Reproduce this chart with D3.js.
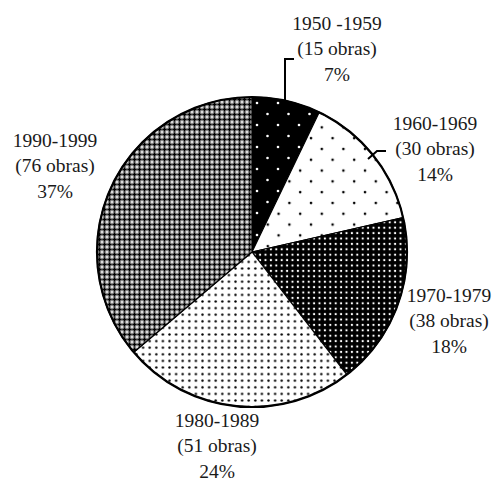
<!DOCTYPE html>
<html>
<head>
<meta charset="utf-8">
<script src="https://cdn.jsdelivr.net/npm/d3@7/dist/d3.min.js"></script>
<style>
html,body{margin:0;padding:0;background:#fff;}
svg{display:block;}
</style>
</head>
<body>
<script>
// Data
const categories = ["1950 -1959", "1960-1969", "1970-1979", "1980-1989", "1990-1999"];
const counts = [15, 30, 38, 51, 76];
const percentLabels = ["7%", "14%", "18%", "24%", "37%"];

// Layout
const W = 495, H = 483;
const cx = 252, cy = 252, R = 155;
const labelAnchors = [
  {x: 337, y: 30},
  {x: 435, y: 130},
  {x: 449, y: 302},
  {x: 217, y: 427},
  {x: 55, y: 147}
];
const lineGap = 25.3;

const svg = d3.select("body").append("svg").attr("width", W).attr("height", H);
const defs = svg.append("defs");

// Patterns
function pat(id, w, h, bg, fg, dots, r) {
  const p = defs.append("pattern").attr("id", id).attr("patternUnits", "userSpaceOnUse")
    .attr("width", w).attr("height", h);
  p.append("rect").attr("width", w).attr("height", h).attr("fill", bg);
  dots.forEach(d => p.append("circle").attr("cx", d[0]).attr("cy", d[1]).attr("r", r).attr("fill", fg));
}
pat("p0", 21, 22, "#000", "#fff", [[5, 5], [15.5, 16]], 1.3);
pat("p1", 21.6, 21.6, "#fff", "#000", [[5, 5], [15.8, 15.8]], 1.3);
pat("p2", 5.4, 5.4, "#000", "#fff", [[2.7, 2.7]], 1.15);
pat("p3", 6.6, 6.6, "#fff", "#000", [[3.3, 3.3]], 1.2);
// crosshatch for 1990
const p4 = defs.append("pattern").attr("id", "p4").attr("patternUnits", "userSpaceOnUse")
  .attr("width", 5).attr("height", 5);
p4.append("rect").attr("width", 5).attr("height", 5).attr("fill", "#9a9a9a");
p4.append("rect").attr("x", 1.8).attr("y", 0.4).attr("width", 1.4).attr("height", 4.2).attr("fill", "#000");
p4.append("rect").attr("x", 0.4).attr("y", 1.8).attr("width", 4.2).attr("height", 1.4).attr("fill", "#000");
[[0, 0], [5, 0], [0, 5], [5, 5]].forEach(d =>
  p4.append("rect").attr("x", d[0] - 0.8).attr("y", d[1] - 0.8).attr("width", 1.6).attr("height", 1.6).attr("fill", "#fff"));

const pie = d3.pie().sort(null).value(d => d)(counts);
const arc = d3.arc().innerRadius(0).outerRadius(R);

const g = svg.append("g").attr("transform", `translate(${cx},${cy})`);
g.selectAll("path.slice").data(pie).join("path")
  .attr("class", "slice")
  .attr("d", arc)
  .attr("fill", (d, i) => `url(#p${i})`)
  .attr("stroke", "#000")
  .attr("stroke-width", 1.2)
  .attr("stroke-linejoin", "round");
g.append("circle").attr("r", R).attr("fill", "none").attr("stroke", "#000").attr("stroke-width", 2.2);

// Leader lines
const leaders = [
  [[285, 101], [285, 59], [294, 59]],
  [[368, 159], [377, 151], [386, 151]]
];
svg.selectAll("path.leader").data(leaders).join("path")
  .attr("class", "leader")
  .attr("d", d3.line())
  .attr("fill", "none").attr("stroke", "#000").attr("stroke-width", 2);

// Labels
const lab = svg.selectAll("text.lab").data(categories).join("text")
  .attr("class", "lab")
  .attr("text-anchor", "middle")
  .attr("font-family", "'Liberation Serif', 'Times New Roman', serif")
  .attr("font-size", 19.5)
  .attr("fill", "#1a1a1a");
lab.each(function(c, i) {
  const t = d3.select(this);
  const a = labelAnchors[i];
  const lines = [c, `(${counts[i]} obras)`, percentLabels[i]];
  lines.forEach((s, k) => t.append("tspan").attr("x", a.x).attr("y", a.y + k * lineGap).text(s));
});
</script>
</body>
</html>
